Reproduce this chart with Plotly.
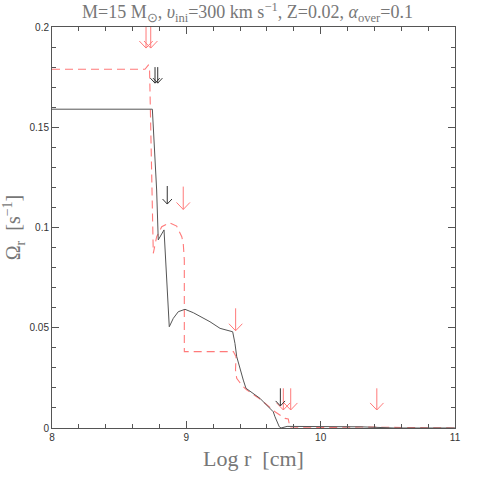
import plotly.graph_objects as go

# solid line (black) - omega profile
logr_black = [8.0, 8.747, 8.779, 8.791, 8.834, 8.873, 8.903, 8.940, 8.990, 9.052,
              9.176, 9.251, 9.345, 9.362, 9.375, 9.400, 9.424, 9.444, 9.548,
              9.647, 9.660, 9.692, 9.705, 9.75, 10.3, 10.55, 11.0]
omega_black = [0.159, 0.159, 0.1187, 0.0938, 0.0988, 0.0505, 0.0547, 0.0580, 0.0592,
               0.0575, 0.0530, 0.0497, 0.0480, 0.0422, 0.0356, 0.0289, 0.0239,
               0.0198, 0.0148, 0.0081, 0.0056, 0.0006, 0.0, 0.0008, 0.0006, 0.0, 0.0]

# dashed line (red)
logr_red = [8.0, 8.692, 8.717, 8.726, 8.754, 8.779, 8.817, 8.873, 8.928, 8.966,
            8.977, 8.985, 8.985, 9.350, 9.370, 9.366, 9.375, 9.412, 9.449, 9.548,
            9.660, 9.697, 9.735, 9.759, 9.764, 9.772, 10.3, 11.0]
omega_red = [0.1789, 0.1789, 0.181, 0.1795, 0.0871, 0.0954, 0.1004, 0.1024, 0.1007,
             0.0954, 0.0921, 0.0838, 0.0381, 0.0381, 0.0356, 0.0289, 0.0248, 0.0214,
             0.0190, 0.0145, 0.0081, 0.0065, 0.0048, 0.0045, 0.002, 0.0, 0.0005, 0.0]

# arrows: x position, tail and tip of each arrow
red_arrow_x = [8.700, 8.735, 8.977, 9.367, 9.722, 9.777, 10.418]
red_arrow_tail = [0.200, 0.200, 0.1204, 0.0597, 0.0198, 0.0198, 0.0198]
red_arrow_tip = [0.1895, 0.1895, 0.109, 0.0485, 0.009, 0.009, 0.009]

black_arrow_x = [8.767, 8.787, 8.858, 9.700]
black_arrow_tail = [0.180, 0.180, 0.1207, 0.0198]
black_arrow_tip = [0.172, 0.172, 0.1117, 0.011]

RED = "#ff7a7a"
BLACK = "#555555"
AXIS = "#555555"
SERIF = "Liberation Serif, Times New Roman, serif"


def arrow_paths(xs, tails, tips, hx, hy):
    """Build a single None-separated path: shaft plus open V head per arrow."""
    px, py = [], []
    for x, t0, t1 in zip(xs, tails, tips):
        px += [x, x, None, x - hx, x, x + hx, None]
        py += [t0, t1, None, t1 + hy, t1, t1 + hy, None]
    return px, py


fig = go.Figure()

fig.add_trace(go.Scatter(
    x=logr_red, y=omega_red, mode="lines",
    line=dict(color=RED, width=1.1, dash="8px,5px"),
    showlegend=False, hoverinfo="skip",
))
fig.add_trace(go.Scatter(
    x=logr_black, y=omega_black, mode="lines",
    line=dict(color=BLACK, width=1),
    showlegend=False, hoverinfo="skip",
))

rx, ry = arrow_paths(red_arrow_x, red_arrow_tail, red_arrow_tip, 0.05, 0.0035)
fig.add_trace(go.Scatter(
    x=rx, y=ry, mode="lines", line=dict(color=RED, width=1),
    showlegend=False, hoverinfo="skip",
))
bx, by = arrow_paths(black_arrow_x, black_arrow_tail, black_arrow_tip, 0.035, 0.0025)
fig.add_trace(go.Scatter(
    x=bx, y=by, mode="lines", line=dict(color="#333333", width=1),
    showlegend=False, hoverinfo="skip",
))

axis_common = dict(
    showgrid=False, zeroline=False, automargin=False,
    showline=True, linecolor=AXIS, linewidth=1, mirror="allticks",
    ticks="inside", ticklen=7, tickcolor=AXIS, tickwidth=1,
    tickfont=dict(family="Liberation Sans, Arial, sans-serif", size=10, color="#333333"),
)

fig.update_layout(
    width=480, height=480,
    margin=dict(l=52, r=25, t=27, b=52, autoexpand=False),
    paper_bgcolor="white", plot_bgcolor="white",
    title=dict(
        text="M=15 M<sub>⊙</sub>, <i>υ</i><sub>ini</sub>=300 km s<sup>−1</sup>, "
             "Z=0.02, <i>α</i><sub>over</sub>=0.1",
        font=dict(family=SERIF, size=18, color="#777777"),
        x=0.485, xref="paper", xanchor="center",
        y=1 - 12 / 480, yref="container", yanchor="middle",
    ),
    xaxis=dict(
        range=[8, 11], tickvals=[8, 9, 10, 11], ticktext=["8", "9", "10", "11"],
        minor=dict(dtick=0.2, ticklen=4, ticks="inside", tickcolor=AXIS),
        title=dict(text="Log r  [cm]", font=dict(family=SERIF, size=22, color="#777777"),
                   standoff=8),
        **axis_common,
    ),
    yaxis=dict(
        range=[0, 0.2], tickvals=[0, 0.05, 0.1, 0.15, 0.2],
        ticktext=["0", "0.05", "0.1", "0.15", "0.2"],
        minor=dict(dtick=0.01, ticklen=4, ticks="inside", tickcolor=AXIS),
        title=dict(text="Ω<sub>r</sub>  [s<sup>−1</sup>]",
                   font=dict(family=SERIF, size=20, color="#777777"), standoff=4),
        **axis_common,
    ),
)

# the page's default body margin would shift the figure by 8px
fig.write_html("out.html", config={"displayModeBar": False},
               post_script="document.body.style.margin = '0';")
